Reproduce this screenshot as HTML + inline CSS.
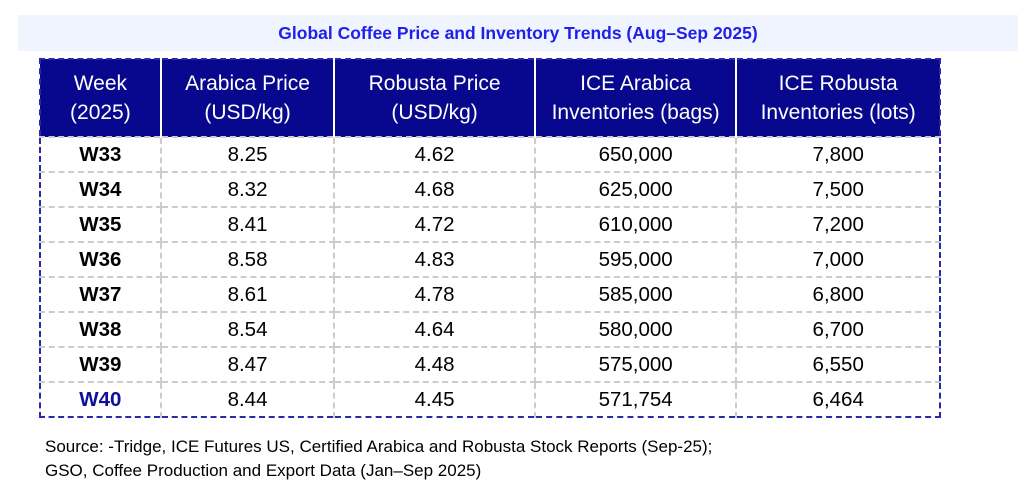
<!DOCTYPE html>
<html><head><style>
body{margin:0;width:1033px;height:503px;background:#fff;font-family:"Liberation Sans",sans-serif;position:relative;overflow:hidden}
.title{position:absolute;left:18px;top:15px;width:1000px;height:36px;background:#eff4fe;color:#2020e8;font-weight:bold;font-size:17.5px;text-align:center;line-height:36px}
table{position:absolute;left:39px;top:58px;width:902px;border-collapse:collapse;border:2px dashed #2a2aa8}
th{background:#08088e;color:#fff;font-weight:normal;font-size:21px;line-height:29px;height:76px;padding:0;border-left:2px solid #fff}
th:first-child{border-left:none}
td{height:33px;padding:0;text-align:center;font-size:20.5px;color:#000;border:2px dashed #ccc}
tr td:first-child{border-left:none;font-weight:bold}
tr td:last-child{border-right:none}
tr:last-child td{border-bottom:none}
.w40{color:#10109a}
.src{position:absolute;left:45px;top:435px;font-size:17px;line-height:24px;color:#000}
</style></head><body>
<div class="title">Global Coffee Price and Inventory Trends (Aug–Sep 2025)</div>
<table>
<colgroup><col style="width:121px"><col style="width:174px"><col style="width:201px"><col style="width:202px"><col style="width:204px"></colgroup>
<tr><th>Week<br>(2025)</th><th>Arabica Price<br>(USD/kg)</th><th>Robusta Price<br>(USD/kg)</th><th>ICE Arabica<br>Inventories (bags)</th><th>ICE Robusta<br>Inventories (lots)</th></tr>
<tr><td>W33</td><td>8.25</td><td>4.62</td><td>650,000</td><td>7,800</td></tr>
<tr><td>W34</td><td>8.32</td><td>4.68</td><td>625,000</td><td>7,500</td></tr>
<tr><td>W35</td><td>8.41</td><td>4.72</td><td>610,000</td><td>7,200</td></tr>
<tr><td>W36</td><td>8.58</td><td>4.83</td><td>595,000</td><td>7,000</td></tr>
<tr><td>W37</td><td>8.61</td><td>4.78</td><td>585,000</td><td>6,800</td></tr>
<tr><td>W38</td><td>8.54</td><td>4.64</td><td>580,000</td><td>6,700</td></tr>
<tr><td>W39</td><td>8.47</td><td>4.48</td><td>575,000</td><td>6,550</td></tr>
<tr><td class="w40">W40</td><td>8.44</td><td>4.45</td><td>571,754</td><td>6,464</td></tr>
</table>
<div class="src">Source: -Tridge, ICE Futures US, Certified Arabica and Robusta Stock Reports (Sep-25);<br>GSO, Coffee Production and Export Data (Jan–Sep 2025)</div>
</body></html>
